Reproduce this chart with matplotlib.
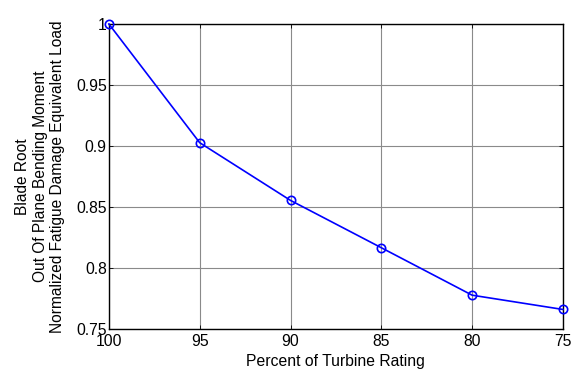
import matplotlib
matplotlib.use("Agg")
import matplotlib.pyplot as plt

percent = [100, 95, 90, 85, 80, 75]
load = [1.0, 0.9027, 0.8554, 0.8166, 0.7777, 0.766]
xticks = [100, 95, 90, 85, 80, 75]
yticks = [0.75, 0.8, 0.85, 0.9, 0.95, 1.0]
ytick_labels = ["0.75", "0.8", "0.85", "0.9", "0.95", "1"]

plt.rcParams['font.family'] = ['Liberation Sans', 'DejaVu Sans']
fig = plt.figure(figsize=(5.73, 3.73), dpi=100)
ax = fig.add_axes([0.190, 0.118, 0.7925, 0.8177])
ax.plot(percent, load, color='#0000ff', lw=1.2, marker='o', ms=6,
        mfc='none', mec='#0000ff', mew=1.2, clip_on=False, zorder=3)
ax.set_xlim(100, 75)
ax.set_ylim(0.75, 1.0)
ax.set_xticks(xticks)
ax.set_xticklabels([str(v) for v in xticks])
ax.set_yticks(yticks)
ax.set_yticklabels(ytick_labels)
ax.grid(True, color='#8a8a8a', lw=0.8, ls='-')
ax.tick_params(direction='in', length=3, width=0.6, labelsize=11.3,
               top=True, right=True, pad=1.5, colors='black')
ax.tick_params(axis='x', pad=3.5)
for s in ax.spines.values():
    s.set_linewidth(1.0)
ax.set_xlabel("Percent of Turbine Rating", fontsize=11.3, labelpad=4)
ax.set_ylabel("Blade Root\nOut Of Plane Bending Moment\nNormalized Fatigue Damage Equivalent Load",
              fontsize=11.2, labelpad=8, linespacing=1.2)
fig.savefig("out.png", dpi=100)
